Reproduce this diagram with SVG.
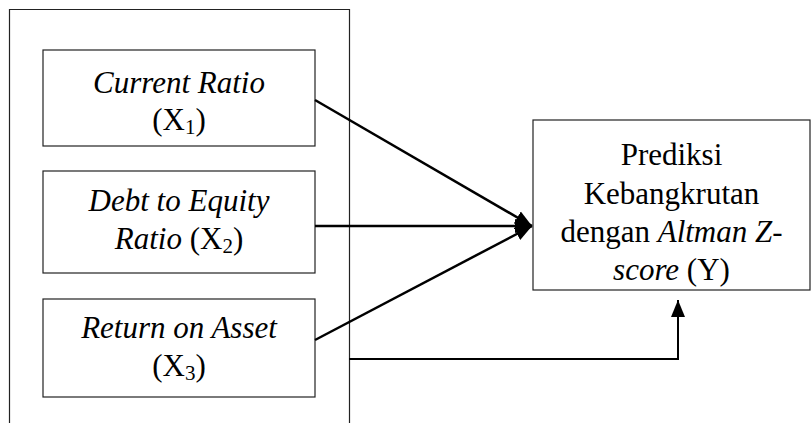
<svg xmlns="http://www.w3.org/2000/svg" width="812" height="423" viewBox="0 0 812 423">
<style>
.box{fill:#fff;stroke:#222;stroke-width:1.2}
.t{font-family:'Liberation Serif','Times New Roman',serif;font-size:31px;fill:#000;text-anchor:middle}
.sub{font-size:21px}
.c{stroke:#000;stroke-width:2.5;fill:none}
</style>
<defs>
<marker id="ah" markerUnits="userSpaceOnUse" markerWidth="18" markerHeight="16" refX="17" refY="8" orient="auto">
<path d="M0,1 L17,8 L0,15 Z" fill="#000"/>
</marker>
</defs>
<g id="frame"><path d="M9.5,423 V9.5 H349.5 V423" fill="none" stroke="#222" stroke-width="1.2"/></g>
<g id="x1">
<rect class="box" x="43" y="50" width="272" height="96"/>
<text class="t" x="179" y="93" font-style="italic">Current Ratio</text>
<text class="t" x="179" y="130">(X<tspan class="sub" dy="4">1</tspan><tspan dy="-4">)</tspan></text>
</g>
<g id="x2">
<rect class="box" x="43" y="171" width="272" height="102"/>
<text class="t" x="179" y="211" font-style="italic">Debt to Equity</text>
<text class="t" x="179" y="249"><tspan font-style="italic">Ratio</tspan> (X<tspan class="sub" dy="4">2</tspan><tspan dy="-4">)</tspan></text>
</g>
<g id="x3">
<rect class="box" x="43" y="299" width="272" height="98"/>
<text class="t" x="179" y="338" font-style="italic">Return on Asset</text>
<text class="t" x="179" y="376">(X<tspan class="sub" dy="4">3</tspan><tspan dy="-4">)</tspan></text>
</g>
<g id="y">
<rect class="box" x="533" y="120" width="277" height="170"/>
<text class="t" x="671.5" y="165">Prediksi</text>
<text class="t" x="671.5" y="204">Kebangkrutan</text>
<text class="t" x="671.5" y="242">dengan <tspan font-style="italic">Altman Z-</tspan></text>
<text class="t" x="671.5" y="280"><tspan font-style="italic">score</tspan> (Y)</text>
</g>
<g id="connectors">
<line class="c" x1="315" y1="100" x2="532" y2="226" marker-end="url(#ah)"/>
<line class="c" x1="315" y1="226" x2="532" y2="226" marker-end="url(#ah)"/>
<line class="c" x1="315" y1="340" x2="532" y2="226" marker-end="url(#ah)"/>
<polyline points="349,359 678,359 678,300" fill="none" stroke="#000" stroke-width="2" marker-end="url(#ah)"/>
</g>
</svg>
